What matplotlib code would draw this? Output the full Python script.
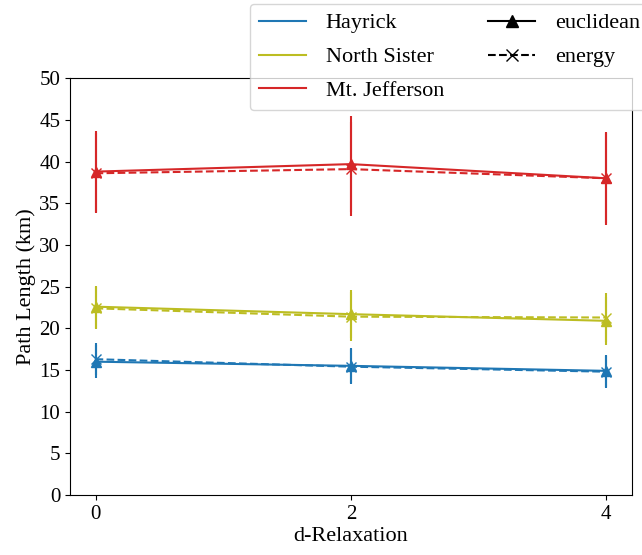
import numpy as np
import matplotlib.pyplot as plt
from matplotlib.lines import Line2D

plt.rcParams['font.family'] = ['Liberation Serif', 'DejaVu Serif']
plt.rcParams['font.size'] = 16

# -------------------------------------------------------------------
# Data
# -------------------------------------------------------------------
d_relax = [0, 2, 4]
mountains = ["Hayrick", "North Sister", "Mt. Jefferson"]
colors = ["tab:blue", "#bcbd22", "tab:red"]

euclid_mean = {
    "Hayrick": [16.0, 15.5, 14.9],
    "North Sister": [22.6, 21.7, 20.9],
    "Mt. Jefferson": [38.8, 39.7, 38.0],
}
euclid_err = {
    "Hayrick": [1.95, 2.1, 1.9],
    "North Sister": [2.5, 2.9, 2.9],
    "Mt. Jefferson": [4.85, 5.8, 5.6],
}
energy_mean = {
    "Hayrick": [16.3, 15.4, 14.8],
    "North Sister": [22.4, 21.4, 21.3],
    "Mt. Jefferson": [38.6, 39.1, 38.0],
}
energy_err = {
    "Hayrick": [1.9, 2.1, 1.9],
    "North Sister": [2.5, 2.9, 2.9],
    "Mt. Jefferson": [4.8, 5.6, 5.4],
}

# -------------------------------------------------------------------
# Plot
# -------------------------------------------------------------------
fig = plt.figure(figsize=(6.42, 5.55), dpi=100)
ax = fig.add_axes([0.109, 0.108, 0.875, 0.751])

for name, c in zip(mountains, colors):
    ax.errorbar(d_relax, euclid_mean[name], yerr=euclid_err[name], color=c,
                marker="^", markersize=7, linestyle="-", capsize=0, linewidth=1.5)
    ax.errorbar(d_relax, energy_mean[name], yerr=energy_err[name], color=c,
                marker="x", markersize=7, linestyle="--", capsize=0, linewidth=1.5)

ax.set_xlim(-0.2, 4.2)
ax.set_ylim(0, 50)
ax.set_xticks([0, 2, 4])
ax.set_yticks(np.arange(0, 51, 5))
ax.tick_params(labelsize=15)
ax.set_xlabel("d-Relaxation", labelpad=2)
ax.set_ylabel("Path Length (km)", labelpad=2)

handles = [Line2D([], [], color=c) for c in colors]
labels = list(mountains)
handles.insert(3, Line2D([], [], color="black", marker="^", linestyle="-", markersize=8))
labels.insert(3, "euclidean")
handles.append(Line2D([], [], color="black", marker="x", linestyle="--", markersize=8))
labels.append("energy")
handles.append(Line2D([], [], color="none"))
labels.append("")

leg = fig.legend(handles, labels, ncol=2, loc="upper left",
                 bbox_to_anchor=(250 / 642, 1 - 4 / 555),
                 frameon=True, fancybox=True, handlelength=2.1,
                 handletextpad=0.9, columnspacing=2.0, labelspacing=0.6,
                 borderaxespad=0)
leg.get_frame().set_edgecolor("#cccccc")

fig.savefig("out.png", dpi=100)
